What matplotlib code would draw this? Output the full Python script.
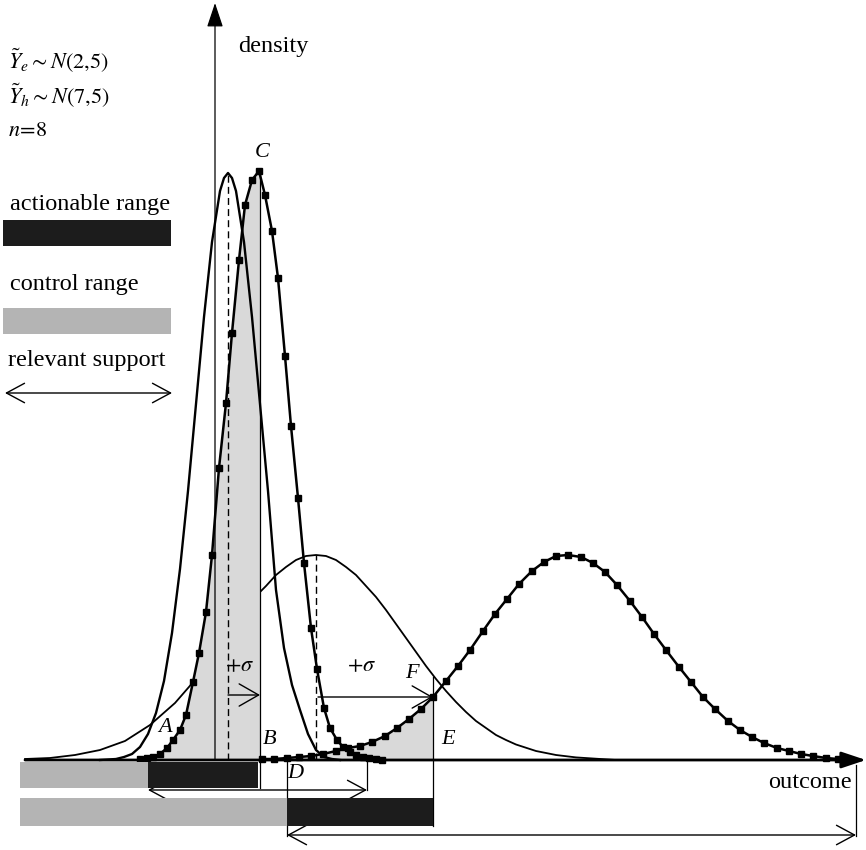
import numpy as np
import matplotlib
matplotlib.use("Agg")
import matplotlib.pyplot as plt
from matplotlib.patches import FancyArrowPatch, Rectangle, ArrowStyle

plt.rcParams['font.family'] = ['Liberation Serif', 'DejaVu Serif']
plt.rcParams['mathtext.fontset'] = 'stix'

# ---------------- data (outcome position, density height) ----------------
# tall narrow curve (distribution around e-mean), no markers
t_x = [100, 116, 124, 132, 140, 148, 156, 164, 172, 180, 188, 196, 204, 212, 220, 224,
       228, 232, 236, 244, 252, 260, 268, 276, 284, 292, 300, 308, 316, 324, 332, 340]
t_h = [0, 1, 3, 6, 13, 26, 47, 79, 127, 191, 269, 356, 443, 518, 569, 582,
       587, 582, 569, 518, 443, 356, 269, 170, 112, 75, 50, 26, 10, 3, 1, 0]

# wide curve, no markers
w_x = [25, 50, 75, 100, 125, 150, 175, 195, 208, 220, 230, 240, 250, 260, 266, 276,
       286, 296, 306, 316, 326, 336, 346, 356, 366, 376, 386, 396, 406, 416, 426, 436,
       446, 456, 466, 476, 486, 496, 506, 516, 536, 556, 576, 596, 616]
w_h = [1, 2, 5, 10, 19, 35, 57, 80, 97, 113, 127, 141, 155, 168, 174, 185,
       193, 200, 204, 205, 204, 200, 193, 185, 174, 163, 150, 136, 122, 108, 94, 81,
       69, 58, 48, 39, 32, 25, 20, 15.5, 9, 5, 2.6, 1.3, 0]

# narrow curve with markers (peak C)
m1_x = [140, 147, 153, 160, 167, 173, 180, 186, 193, 199, 206, 212, 219, 226, 232, 239,
        245, 252, 259, 265, 272, 278, 285, 291, 298, 304, 311, 317, 324, 330, 337, 343,
        350, 356, 363, 369, 376, 382]
m1_h = [1, 2, 3, 6, 12, 20, 30, 45, 78, 107, 148, 205, 292, 357, 427, 500,
        555, 580, 589, 565, 529, 482, 404, 334, 262, 197, 132, 91, 52, 32, 20, 13,
        8, 5, 3, 2, 1, 0.5]

# wide curve with markers
m2_x = [262, 274, 287, 299, 311, 323, 336, 348, 360, 372, 385, 397, 409, 421, 433, 446,
        458, 470, 483, 495, 507, 519, 532, 544, 556, 568, 581, 593, 605, 617, 630, 642,
        654, 666, 679, 691, 703, 715, 728, 740, 752, 764, 777, 789, 801, 813, 826, 838]
m2_h = [1, 1, 2, 3, 4, 6, 9, 12, 14, 18, 24, 32, 41, 51, 63, 79,
        94, 110, 129, 146, 161, 176, 189, 198, 204, 205, 203, 197, 188, 175, 159, 143,
        126, 110, 93, 78, 63, 51, 39, 30, 23, 17, 12, 9, 6, 4, 2, 1]

# key positions on the outcome axis
mean_e_x, mean_e_h = 228, 587   # dashed line under tall peak
c_x, c_h = 259, 589             # point C / line B
mean_w_x, mean_w_h = 316, 205
e_x = 433                       # line E
e_top = 83
b_x = 260
d_x = 287

# ranges (start, end) on the outcome axis
control_1 = (20, 148)
action_1 = (148, 258)
support_1 = (148, 367)
control_2 = (20, 287)
action_2 = (287, 433)
support_2 = (287, 856)

# ---------------- figure ----------------
fig = plt.figure(figsize=(8.66, 8.5), dpi=100)
ax = fig.add_axes([0, 0, 1, 1])
ax.set_xlim(0, 866)
ax.set_ylim(-90, 760)
ax.axis('off')

GRAY = '#b4b4b4'
BLACK = '#1c1c1c'
SHADE = '#d9d9d9'

# wide plain curve
ax.plot(w_x, w_h, color='k', lw=1.3, zorder=2)

# shadings
m1x = np.array(m1_x); m1h = np.array(m1_h)
sel = m1x <= b_x
ax.fill_between(np.append(m1x[sel], b_x), np.append(m1h[sel], c_h), 0,
                color=SHADE, lw=0, zorder=3)
m2x = np.array(m2_x); m2h = np.array(m2_h)
sel2 = (m2x >= 299) & (m2x <= e_x)
ax.fill_between(m2x[sel2], m2h[sel2], 0, color=SHADE, lw=0, zorder=3)

# curves on top
ax.plot(t_x, t_h, color='k', lw=1.7, zorder=5)
ax.plot(m1_x, m1_h, color='k', lw=1.8, marker='s', ms=4, zorder=6)
ax.plot(m2_x, m2_h, color='k', lw=1.8, marker='s', ms=4, zorder=6)

# dashed means
ax.plot([mean_e_x, mean_e_x], [0, mean_e_h], color='k', lw=1.0, ls=(0, (5, 3)), zorder=5)
ax.plot([mean_w_x, mean_w_x], [0, mean_w_h], color='k', lw=1.0, ls=(0, (5, 3)), zorder=5)

# vertical lines
ax.plot([b_x, b_x], [-28, c_h], color='k', lw=0.9, zorder=5)
ax.plot([e_x, e_x], [-66, e_top], color='k', lw=0.9, zorder=5)
ax.plot([d_x, d_x], [-76, 0], color='k', lw=0.9, zorder=5)
ax.plot([support_1[1], support_1[1]], [-30, -2], color='k', lw=0.9, zorder=5)
ax.plot([support_2[1], support_2[1]], [-76, -5], color='k', lw=0.9, zorder=5)

# range bars under the axis
def bar(rng, y0, h, col):
    ax.add_patch(Rectangle((rng[0], y0), rng[1] - rng[0], h, facecolor=col,
                           edgecolor='none', zorder=7))

bar(control_1, -28, 26, GRAY)
bar(action_1, -28, 26, BLACK)
bar(control_2, -66, 28, GRAY)
bar(action_2, -66, 28, BLACK)

def darrow(x0, x1, y, z=4):
    a = FancyArrowPatch((x0, y), (x1, y),
                        arrowstyle=ArrowStyle('<->', head_length=13, head_width=7),
                        mutation_scale=1, lw=1.0, color='k', shrinkA=0, shrinkB=0,
                        zorder=z)
    ax.add_patch(a)

def sarrow(x0, x1, y):
    a = FancyArrowPatch((x0, y), (x1, y),
                        arrowstyle=ArrowStyle('->', head_length=14, head_width=8),
                        mutation_scale=1, lw=1.0, color='k', shrinkA=0, shrinkB=0,
                        zorder=8)
    ax.add_patch(a)

darrow(support_1[0], support_1[1], -30)
darrow(support_2[0], support_2[1], -75)

# +sigma arrows
sarrow(mean_e_x, b_x, 65)
sarrow(318, e_x, 63)

# axes with filled heads
ax.add_patch(FancyArrowPatch((25, 0), (866, 0),
                             arrowstyle=ArrowStyle('-|>', head_length=15, head_width=5),
                             mutation_scale=1, lw=2.0, color='k', shrinkA=0, shrinkB=0,
                             zorder=9))
ax.add_patch(FancyArrowPatch((215, 0), (215, 757),
                             arrowstyle=ArrowStyle('-|>', head_length=15, head_width=5),
                             mutation_scale=1, lw=0.9, color='k', shrinkA=0, shrinkB=0,
                             zorder=9))

# ---------------- texts ----------------
FS = 17.5
ax.text(238, 708, 'density', fontsize=FS, ha='left', va='baseline')
ax.text(852, -28, 'outcome', fontsize=FS, ha='right', va='baseline')

MFS = 16
ax.text(8, 700, r'$\tilde{Y}_e \sim N\left(2{,}5\right)$', fontsize=MFS, ha='left', va='center')
ax.text(8, 665, r'$\tilde{Y}_h \sim N\left(7{,}5\right)$', fontsize=MFS, ha='left', va='center')
ax.text(8, 629, r'$n\!=\!8$', fontsize=MFS, ha='left', va='center')

ax.text(10, 550, 'actionable range', fontsize=FS, ha='left', va='baseline')
ax.add_patch(Rectangle((3, 514), 168, 26, facecolor=BLACK, edgecolor='none'))
ax.text(10, 470, 'control range', fontsize=FS, ha='left', va='baseline')
ax.add_patch(Rectangle((3, 426), 168, 26, facecolor=GRAY, edgecolor='none'))
ax.text(8, 394, 'relevant support', fontsize=FS, ha='left', va='baseline')
darrow(5, 172, 367)

lab = dict(fontsize=16, style='italic', ha='center', va='center', zorder=10)
ax.text(262, 608, 'C', **lab)
ax.text(165, 32, 'A', **lab)
ax.text(270, 20, 'B', **lab)
ax.text(295, -13, 'D', **lab)
ax.text(448, 20, 'E', **lab)
ax.text(412, 87, 'F', **lab)
ax.text(240, 93, r'$+\sigma$', fontsize=16, ha='center', va='center', zorder=10)
ax.text(362, 93, r'$+\sigma$', fontsize=16, ha='center', va='center', zorder=10)

fig.savefig('out.png', dpi=100, facecolor='white')
